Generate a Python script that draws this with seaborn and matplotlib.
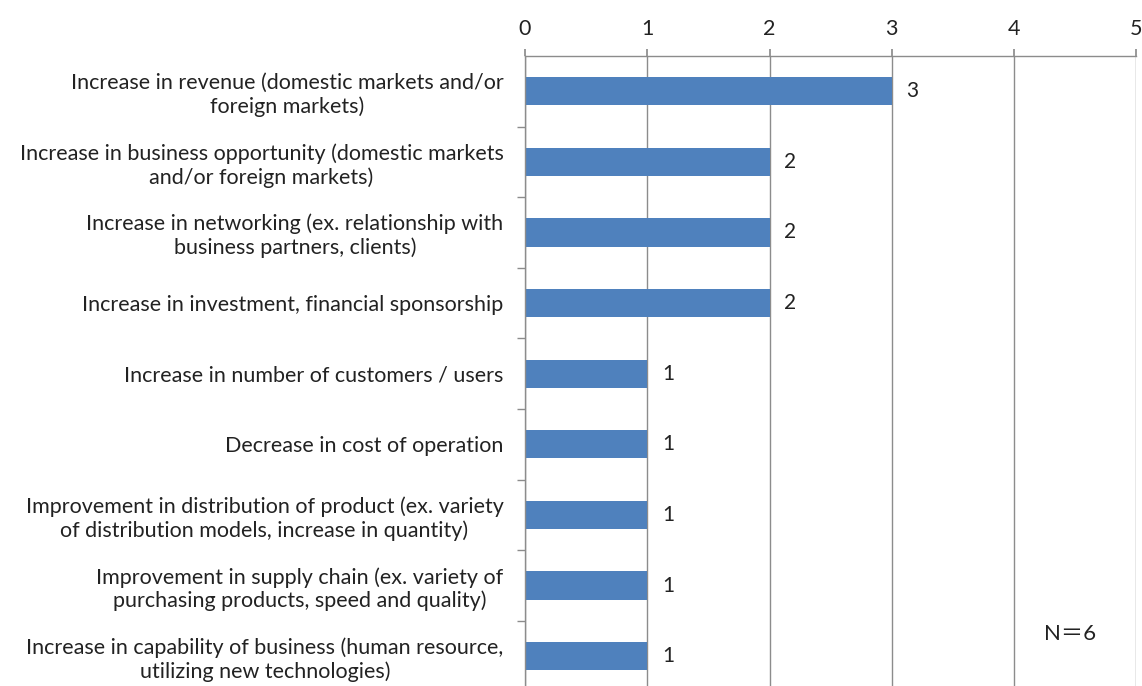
import matplotlib
matplotlib.use("Agg")
import matplotlib.pyplot as plt
import seaborn as sns
import pandas as pd

categories = [
    "Increase in revenue (domestic markets and/or\nforeign markets)",
    "Increase in business opportunity (domestic markets\nand/or foreign markets)",
    "Increase in networking (ex. relationship with\nbusiness partners, clients)",
    "Increase in investment, financial sponsorship",
    "Increase in number of customers / users",
    "Decrease in cost of operation",
    "Improvement in distribution of product (ex. variety\nof distribution models, increase in quantity)",
    "Improvement in supply chain (ex. variety of\npurchasing products, speed and quality)",
    "Increase in capability of business (human resource,\nutilizing new technologies)",
]
counts = [3, 2, 2, 2, 1, 1, 1, 1, 1]
x_ticks = [0, 1, 2, 3, 4, 5]

df = pd.DataFrame({"item": categories, "count": counts})

sns.set_theme(style="white")
plt.rcParams["font.family"] = ["Lato", "Noto Sans CJK JP", "DejaVu Sans"]

fig = plt.figure(figsize=(11.42, 6.86), dpi=100)
ax = fig.add_axes([0.4597, -0.0079, 0.5353, 0.9263])

sns.barplot(data=df, x="count", y="item", orient="h", color="#4F81BD",
            width=0.4, saturation=1, linewidth=0, ax=ax)

ax.set_xlim(0, 5)
ax.set_ylim(8.5, -0.5)
ax.set_xticks(x_ticks)
ax.xaxis.tick_top()
ax.grid(axis="x", color="#8c8c8c", linewidth=1)
ax.set_axisbelow(True)
ax.set_xlabel("")
ax.set_ylabel("")

for side in ["right", "bottom"]:
    ax.spines[side].set_visible(False)
for side in ["top", "left"]:
    ax.spines[side].set_color("#8c8c8c")
    ax.spines[side].set_linewidth(1)

ax.tick_params(axis="x", top=True, bottom=False, length=5, color="#8c8c8c",
               labelsize=15.5, pad=7, labelcolor="#222222")
ax.set_yticks([i + 0.5 for i in range(len(categories) - 1)], minor=True)
ax.tick_params(axis="y", which="minor", left=True, length=6, color="#8c8c8c")
ax.tick_params(axis="y", which="major", left=False, length=0, labelsize=15.5,
               pad=15.5, labelcolor="#222222")
for lbl in ax.get_yticklabels():
    lbl.set_horizontalalignment("right")
    lbl.set_multialignment("center")

for i, v in enumerate(counts):
    ax.text(v + 0.12, i, str(v), va="center", ha="left", fontsize=15,
            color="#222222")

ax.text(4.46, 7.69, "N＝6", fontsize=16, ha="center", va="center", color="#222222")

plt.savefig("out.png", dpi=100)
